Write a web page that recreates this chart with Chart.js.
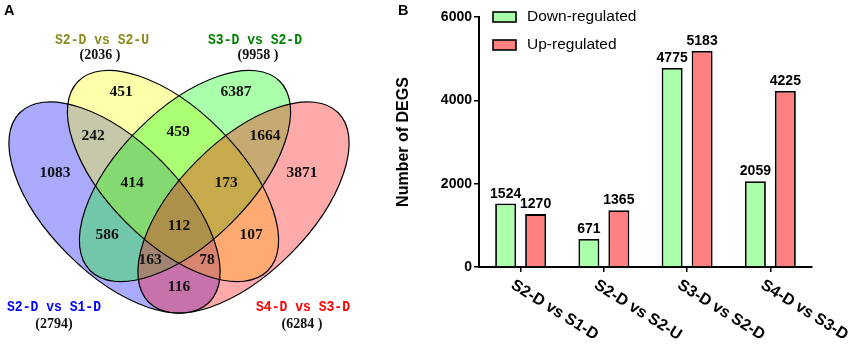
<!DOCTYPE html>
<html><head><meta charset="utf-8">
<script src="https://cdn.jsdelivr.net/npm/chart.js@4.4.1/dist/chart.umd.min.js"></script>
<style>
html,body{margin:0;padding:0;background:#fff;}
#wrap{position:relative;width:851px;height:345px;overflow:hidden;}
canvas{position:absolute;left:0;top:0;}
</style></head><body>
<div id="wrap"><canvas id="venn" width="851" height="345"></canvas><canvas id="bars" width="851" height="345"></canvas></div>
<script>
// ---------- Data: panel B (bars) ----------
const comparisons = ['S2-D vs S1-D', 'S2-D vs S2-U', 'S3-D vs S2-D', 'S4-D vs S3-D'];
const downRegulated = [1524, 671, 4775, 2059];
const upRegulated = [1270, 1365, 5183, 4225];
const seriesNames = ['Down-regulated', 'Up-regulated'];
const yTicks = [0, 2000, 4000, 6000];

// ---------- Data: panel A (Venn) ----------
const vennSetNames = ['S2-D vs S1-D', 'S2-D vs S2-U', 'S3-D vs S2-D', 'S4-D vs S3-D'];
const vennSetTotals = [2794, 2036, 9958, 6284];
const vennRegionKeys = ['A', 'B', 'C', 'D', 'AB', 'BC', 'CD', 'AD', 'ABC', 'BCD', 'AC', 'BD', 'ACD', 'ABD', 'ABCD'];
const vennRegionCounts = [1083, 451, 6387, 3871, 242, 459, 1664, 116, 414, 173, 586, 107, 163, 78, 112];

// ---------- Layout / style (not data) ----------
const vennShapes = [
  {cx: 114.5, cy: 207.5, rot: 45},
  {cx: 173, cy: 176, rot: 45},
  {cx: 185, cy: 176, rot: -45},
  {cx: 243.5, cy: 207.5, rot: -45}
];
const vennAxes = {a: 134, b: 66};
const vennFills = ['rgba(0,0,255,0.334)', 'rgba(255,255,0,0.334)', 'rgba(0,255,0,0.334)', 'rgba(255,0,0,0.334)'];
const vennTitleColors = ['#0000ff', '#8c8c1c', '#008000', '#ff0000'];
const vennTitlePos = [{x: 54, y: 307}, {x: 102, y: 40}, {x: 255, y: 40}, {x: 303, y: 307}];
const vennTotalPos = [{x: 54, y: 324}, {x: 100, y: 55}, {x: 258, y: 55}, {x: 302, y: 324}];
const vennLabelPos = {
  A: [55, 173], B: [121, 92], C: [236, 92], D: [302, 173],
  AB: [93, 136], BC: [178, 132], CD: [265, 136], AD: [179, 287],
  ABC: [132, 183], BCD: [226, 183], AC: [107, 235], BD: [251, 235],
  ACD: [150, 260], ABD: [207, 260], ABCD: [179, 226]
};

const vennPlugin = {
  id: 'vennDraw',
  afterDraw(chart) {
    const ctx = chart.ctx, xs = chart.scales.x, ys = chart.scales.y;
    const px = v => xs.getPixelForValue(v), py = v => ys.getPixelForValue(v);
    const sx = px(1) - px(0), sy = py(1) - py(0);
    ctx.save();
    vennShapes.forEach((s, i) => {
      ctx.beginPath();
      ctx.ellipse(px(s.cx), py(s.cy), vennAxes.a * sx, vennAxes.b * sy, s.rot * Math.PI / 180, 0, Math.PI * 2);
      ctx.fillStyle = vennFills[i];
      ctx.fill();
    });
    ctx.strokeStyle = '#000';
    ctx.lineWidth = 1.2;
    vennShapes.forEach(s => {
      ctx.beginPath();
      ctx.ellipse(px(s.cx), py(s.cy), vennAxes.a * sx, vennAxes.b * sy, s.rot * Math.PI / 180, 0, Math.PI * 2);
      ctx.stroke();
    });
    ctx.fillStyle = '#111';
    ctx.textAlign = 'center';
    ctx.textBaseline = 'middle';
    ctx.font = 'bold 15.5px "Liberation Serif", "Times New Roman", serif';
    vennRegionKeys.forEach((k, i) => {
      const p = vennLabelPos[k];
      ctx.fillText(String(vennRegionCounts[i]), px(p[0]), py(p[1]));
    });
    vennSetNames.forEach((n, i) => {
      const p = vennTitlePos[i];
      ctx.save();
      ctx.translate(px(p.x), py(p.y));
      ctx.scale(0.87, 1);
      ctx.font = 'bold 15px "Liberation Mono", "DejaVu Sans Mono", monospace';
      ctx.fillStyle = vennTitleColors[i];
      ctx.fillText(n, 0, 0);
      ctx.restore();
      const q = vennTotalPos[i];
      ctx.font = 'bold 14px "Liberation Serif", "Times New Roman", serif';
      ctx.fillStyle = '#111';
      const t = i === 0 ? '(' + vennSetTotals[i] + ')' : '(' + vennSetTotals[i] + ' )';
      ctx.fillText(t, px(q.x), py(q.y));
    });
    ctx.textAlign = 'left';
    ctx.textBaseline = 'alphabetic';
    ctx.fillStyle = '#000';
    ctx.font = 'bold 14.5px "Liberation Sans", Arial, sans-serif';
    ctx.fillText('A', 4, 15);
    ctx.restore();
  }
};

new Chart(document.getElementById('venn'), {
  type: 'scatter',
  data: {datasets: []},
  options: {
    responsive: false, animation: false, events: [],
    layout: {padding: 0},
    scales: {
      x: {type: 'linear', min: 0, max: 851, display: false},
      y: {type: 'linear', min: 0, max: 345, reverse: true, display: false}
    },
    plugins: {legend: {display: false}, tooltip: {enabled: false}}
  },
  plugins: [vennPlugin]
});

// ---------- Bar chart ----------
const barFills = ['#aaffaa', '#ff8080'];
const barDecor = {
  id: 'barDecor',
  afterDraw(chart) {
    const ctx = chart.ctx, area = chart.chartArea, xs = chart.scales.x;
    ctx.save();
    ctx.fillStyle = '#000';
    ctx.font = 'bold 14px "Liberation Sans", Arial, sans-serif';
    ctx.textAlign = 'center';
    ctx.textBaseline = 'alphabetic';
    chart.data.datasets.forEach((ds, di) => {
      chart.getDatasetMeta(di).data.forEach((bar, i) => {
        ctx.fillText(String(ds.data[i]), bar.x, bar.y - 6);
      });
    });
    ctx.font = 'bold 16px "Liberation Sans", Arial, sans-serif';
    ctx.textAlign = 'left';
    ctx.textBaseline = 'top';
    chart.data.labels.forEach((lab, i) => {
      const x = xs.getPixelForTick(i);
      ctx.save();
      ctx.translate(x - 4, xs.top + 10);
      ctx.rotate(32 * Math.PI / 180);
      ctx.fillText(lab, 0, 0);
      ctx.restore();
    });
    ctx.font = '15.5px "Liberation Sans", Arial, sans-serif';
    ctx.textBaseline = 'middle';
    chart.data.datasets.forEach((ds, di) => {
      const bx = area.left + 14, by = area.top - 5 + di * 28;
      ctx.fillStyle = ds.backgroundColor;
      ctx.fillRect(bx, by, 23, 10);
      ctx.strokeStyle = '#000';
      ctx.lineWidth = 1.6;
      ctx.strokeRect(bx, by, 23, 10);
      ctx.fillStyle = '#000';
      ctx.fillText(ds.label, bx + 34, by + 5);
    });
    ctx.font = 'bold 14.5px "Liberation Sans", Arial, sans-serif';
    ctx.textBaseline = 'alphabetic';
    ctx.fillText('B', 398, 15);
    ctx.restore();
  }
};

new Chart(document.getElementById('bars'), {
  type: 'bar',
  data: {
    labels: comparisons,
    datasets: [
      {label: seriesNames[0], data: downRegulated, backgroundColor: barFills[0], borderColor: '#000', borderWidth: 1.8, barPercentage: 0.7, categoryPercentage: 0.72},
      {label: seriesNames[1], data: upRegulated, backgroundColor: barFills[1], borderColor: '#000', borderWidth: 1.8, barPercentage: 0.7, categoryPercentage: 0.72}
    ]
  },
  options: {
    responsive: false, animation: false, events: [],
    layout: {padding: {left: 394, right: 39, top: 17, bottom: 0}},
    scales: {
      x: {
        grid: {display: true, drawOnChartArea: false, drawTicks: true, tickLength: 5, color: '#000', lineWidth: 1.5, offset: false},
        border: {display: true, color: '#000', width: 2},
        ticks: {display: false},
        afterFit: s => { s.height = 78; }
      },
      y: {
        min: yTicks[0], max: yTicks[yTicks.length - 1],
        afterBuildTicks: s => { s.ticks = yTicks.map(v => ({value: v})); },
        ticks: {color: '#000', padding: 2, callback: v => String(v), font: {family: '"Liberation Sans", Arial, sans-serif', weight: 'bold', size: 14}},
        grid: {display: true, drawOnChartArea: false, drawTicks: true, tickLength: 5, color: '#000', lineWidth: 1.5},
        border: {display: true, color: '#000', width: 2},
        title: {display: true, text: 'Number of DEGS', color: '#000', padding: 0, font: {family: '"Liberation Sans", Arial, sans-serif', weight: 'bold', size: 16}},
        afterFit: s => { s.width = 85; }
      }
    },
    plugins: {legend: {display: false}, tooltip: {enabled: false}}
  },
  plugins: [barDecor]
});
</script>
</body></html>
